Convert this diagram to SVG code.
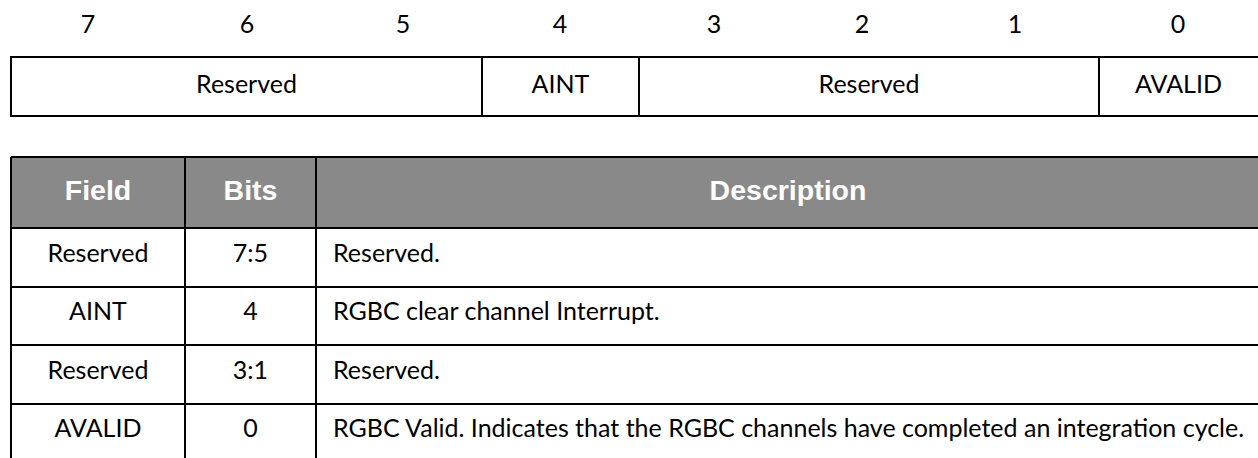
<svg xmlns="http://www.w3.org/2000/svg" width="1258" height="458" viewBox="0 0 1258 458">
<style>
.t{font-family:Lato,"Open Sans","Liberation Sans",sans-serif;font-size:25px;fill:#000}
.c{text-anchor:middle}
.h{font-family:"Liberation Sans",Arial,sans-serif;font-size:28.5px;font-weight:bold;fill:#fff;text-anchor:middle}
.ln{stroke:#000;stroke-width:2;fill:none}
</style>
<rect width="1258" height="458" fill="#fff"/>
<g id="bit-numbers">
<text class="t c" x="88" y="33">7</text>
<text class="t c" x="247" y="33">6</text>
<text class="t c" x="403" y="33">5</text>
<text class="t c" x="560" y="33">4</text>
<text class="t c" x="714" y="33">3</text>
<text class="t c" x="862" y="33">2</text>
<text class="t c" x="1015" y="33">1</text>
<text class="t c" x="1178" y="33">0</text>
</g>
<g id="register">
<g id="reg-reserved-7-5"><rect class="ln" x="11" y="57" width="471" height="59"/><text class="t c" x="246.5" y="93">Reserved</text></g>
<g id="reg-aint"><rect class="ln" x="482" y="57" width="157" height="59"/><text class="t c" x="560.5" y="93">AINT</text></g>
<g id="reg-reserved-3-1"><rect class="ln" x="639" y="57" width="460" height="59"/><text class="t c" x="869" y="93">Reserved</text></g>
<g id="reg-avalid"><rect class="ln" x="1099" y="57" width="162" height="59"/><text class="t c" x="1178.5" y="93">AVALID</text></g>
</g>
<g id="table">
<g id="header">
<rect x="11" y="157" width="1250" height="71" fill="#898989"/>
<text class="h" x="98" y="200">Field</text>
<text class="h" x="250.5" y="200">Bits</text>
<text class="h" x="788" y="200">Description</text>
</g>
<g id="row-reserved-7-5">
<text class="t c" x="98" y="262">Reserved</text>
<text class="t c" x="250.5" y="262">7:5</text>
<text class="t" x="333" y="262">Reserved.</text>
</g>
<g id="row-aint">
<text class="t c" x="98" y="320">AINT</text>
<text class="t c" x="250.5" y="320">4</text>
<text class="t" x="333" y="320">RGBC clear channel Interrupt.</text>
</g>
<g id="row-reserved-3-1">
<text class="t c" x="98" y="379">Reserved</text>
<text class="t c" x="250.5" y="379">3:1</text>
<text class="t" x="333" y="379">Reserved.</text>
</g>
<g id="row-avalid">
<text class="t c" x="98" y="437">AVALID</text>
<text class="t c" x="250.5" y="437">0</text>
<text class="t" x="333" y="437">RGBC Valid. Indicates that the RGBC channels have completed an integration cycle.</text>
</g>
<g id="grid" class="ln">
<path d="M11 157H1261M11 228H1261M11 287H1261M11 345H1261M11 404H1261"/>
<path d="M11 157V470M185 157V470M316 157V470M1261 157V470"/>
</g>
</g>
</svg>
